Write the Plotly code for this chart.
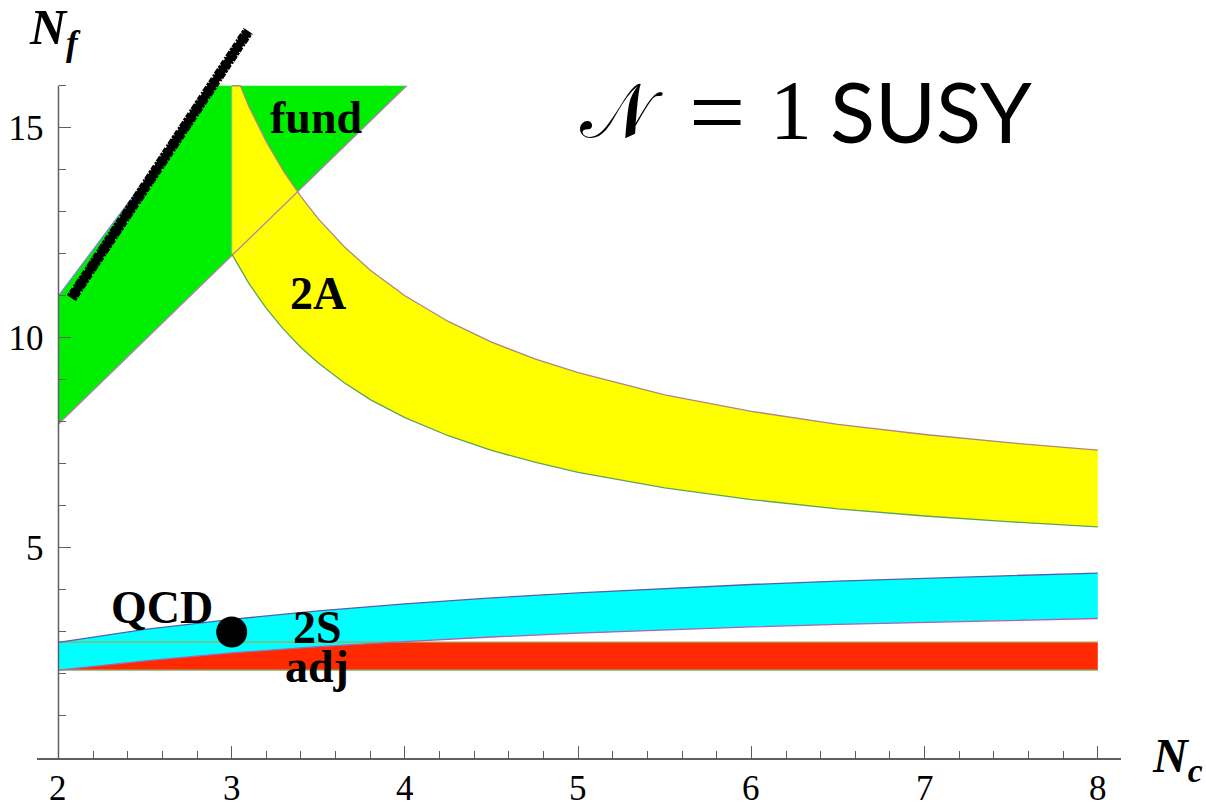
import plotly.graph_objects as go

# ---- conformal windows (N_c vs N_f) ----
# fundamental: straight-line window
fund_nc_lo = [2.0, 3.0, 4.01]
fund_nf_lo = [7.95, 11.95, 16.0]
fund_nc_hi = [2.0, 2.91]
fund_nf_hi = [11.0, 16.0]

# two-index antisymmetric
nc_2a = [3.0, 3.05, 3.1, 3.2, 3.3, 3.4, 3.5, 3.65, 3.8, 4.0, 4.25, 4.5, 4.75,
         5.0, 5.5, 6.0, 6.5, 7.0, 7.5, 8.0]
nf_2a_hi = [16.0, 16.0, 15.5, 14.67, 13.96, 13.36, 12.83, 12.17, 11.61, 11.0,
            10.39, 9.9, 9.5, 9.17, 8.64, 8.25, 7.94, 7.7, 7.5, 7.33]
nf_2a_lo = [12.0, 11.63, 11.29, 10.7, 10.2, 9.77, 9.4, 8.93, 8.53, 8.1,
            7.67, 7.32, 7.04, 6.8, 6.43, 6.15, 5.93, 5.76, 5.62, 5.5]

# two-index symmetric
nc_2s = [2.0, 2.5, 3.0, 3.5, 4.0, 4.5, 5.0, 5.5, 6.0, 6.5, 7.0, 7.5, 8.0]
nf_2s_hi = [2.75, 3.06, 3.30, 3.50, 3.67, 3.81, 3.93, 4.03, 4.13, 4.21, 4.28, 4.34, 4.40]
nf_2s_lo = [2.09, 2.31, 2.50, 2.65, 2.77, 2.88, 2.97, 3.05, 3.12, 3.18, 3.23, 3.28, 3.32]

# adjoint
nc_adj = [2.0, 8.0]
nf_adj_hi = [2.76, 2.76]
nf_adj_lo = [2.09, 2.09]

# hand-drawn stroke along the asymptotic-freedom edge
stroke_nc = [2.075, 3.095]
stroke_nf = [10.95, 17.3]

# QCD point
qcd_nc = [3.0]
qcd_nf = [3.0]

x_major = [2, 3, 4, 5, 6, 7, 8]
y_major = [5, 10, 15]
y_minor = [1, 2, 3, 4, 6, 7, 8, 9, 11, 12, 13, 14, 16]

GREEN = "#00ee00"
YELLOW = "#ffff00"
CYAN = "#00ffff"
RED = "#ff2a00"
AXIS = "#5f5f5f"

fig = go.Figure()


def band(xs_lo, ys_lo, xs_hi, ys_hi, color):
    fig.add_trace(go.Scatter(
        x=list(xs_lo) + list(xs_hi)[::-1],
        y=list(ys_lo) + list(ys_hi)[::-1],
        fill="toself", fillcolor=color, mode="lines",
        line=dict(width=0), hoverinfo="skip", showlegend=False))


def edge(xs, ys, color, width=1.3):
    fig.add_trace(go.Scatter(x=xs, y=ys, mode="lines",
                             line=dict(color=color, width=width),
                             hoverinfo="skip", showlegend=False))


band(fund_nc_lo, fund_nf_lo, fund_nc_hi, fund_nf_hi, GREEN)
band(nc_2a, nf_2a_lo, nc_2a, nf_2a_hi, YELLOW)
band(nc_adj, nf_adj_lo, nc_adj, nf_adj_hi, RED)
band(nc_2s, nf_2s_lo, nc_2s, nf_2s_hi, CYAN)

edge(fund_nc_lo, fund_nf_lo, "#b57fb5")
edge(fund_nc_hi, fund_nf_hi, "#7f86d0")
edge(nc_2a, nf_2a_hi, "#b08878")
edge(nc_2a, nf_2a_lo, "#5ca35c")
edge([nc_2a[0], nc_2a[0]], [nf_2a_lo[0], nf_2a_hi[0]], "#8fb08f", 1.0)
edge(nc_adj, nf_adj_lo, "#7fc07f")
edge(nc_adj, nf_adj_hi, "#b0a050")
edge(nc_2s, nf_2s_lo, "#b060b0")
edge(nc_2s, nf_2s_hi, "#5060b0")

# rough pen stroke: a solid core with a ragged, irregularly dashed halo
fig.add_trace(go.Scatter(x=stroke_nc, y=stroke_nf, mode="lines",
                         line=dict(color="black", width=8),
                         hoverinfo="skip", showlegend=False))
fig.add_trace(go.Scatter(x=stroke_nc, y=stroke_nf, mode="lines",
                         line=dict(color="black", width=11,
                                   dash="3px,1px,5px,2px,2px,1px,6px,1px"),
                         hoverinfo="skip", showlegend=False))

fig.add_trace(go.Scatter(x=qcd_nc, y=qcd_nf, mode="markers",
                         marker=dict(color="black", size=31),
                         hoverinfo="skip", showlegend=False))

LABEL_FONT = dict(family="Liberation Serif", size=46, color="black")
for txt, xa, ya in [("fund", 3.487, 15.24), ("2A", 3.498, 11.06),
                    ("QCD", 2.598, 3.58), ("2S", 3.498, 3.11),
                    ("adj", 3.492, 2.17)]:
    fig.add_annotation(x=xa, y=ya, xref="x", yref="y", text=f"<b>{txt}</b>",
                       showarrow=False, font=LABEL_FONT,
                       xanchor="center", yanchor="middle")

AX_FONT = dict(family="Liberation Serif", size=35, color="black")

# x tick labels set below the axis line
for v in x_major:
    fig.add_annotation(x=v, y=-0.041, xref="x", yref="paper", text=str(v),
                       showarrow=False, font=AX_FONT, height=30,
                       xanchor="center", yanchor="middle")

fig.add_annotation(x=0.0166, y=0.985, xref="paper", yref="paper",
                   text="<b><i>N<sub>f</sub></i></b>", showarrow=False,
                   font=dict(family="Liberation Serif", size=50, color="black"),
                   xanchor="center", yanchor="middle")
fig.add_annotation(x=1.0517, y=-0.001, xref="paper", yref="paper",
                   text="<b><i>N<sub>c</sub></i></b>", showarrow=False,
                   font=dict(family="Liberation Serif", size=48, color="black"),
                   xanchor="center", yanchor="middle")

# heading, composed from pieces in their own typefaces
TITLE_Y = 0.8767
fig.add_annotation(x=(621 - 37) / 1084, y=TITLE_Y, xref="paper", yref="paper",
                   text="\U0001D4A9", showarrow=False,
                   font=dict(family="DejaVu Serif", size=76, color="black"),
                   xanchor="center", yanchor="middle")
fig.add_annotation(x=(717 - 37) / 1084, y=0.8745, xref="paper", yref="paper",
                   text="=", showarrow=False,
                   font=dict(family="Liberation Serif", size=100, color="black"),
                   xanchor="center", yanchor="middle")
fig.add_annotation(x=(791 - 37) / 1084, y=TITLE_Y, xref="paper", yref="paper",
                   text="1", showarrow=False,
                   font=dict(family="Liberation Serif", size=84, color="black"),
                   xanchor="center", yanchor="middle")
fig.add_annotation(x=(931 - 37) / 1084, y=TITLE_Y, xref="paper", yref="paper",
                   text="SUSY", showarrow=False,
                   font=dict(family="Lato", size=83, color="black"),
                   xanchor="center", yanchor="middle")

# y-axis line only spans the drawn range
fig.add_shape(type="line", xref="x", yref="y", x0=2, x1=2, y0=0, y1=16,
              line=dict(color=AXIS, width=1.5), layer="above")

fig.update_layout(
    width=1206, height=805,
    margin=dict(l=37, r=85, t=20, b=47, autoexpand=False),
    paper_bgcolor="white", plot_bgcolor="white",
    xaxis=dict(range=[1.876, 8.134], showgrid=False, zeroline=False,
               showline=True, linecolor=AXIS, linewidth=1.5,
               tickmode="array", tickvals=x_major, showticklabels=False,
               ticks="inside", ticklen=12, tickwidth=1.3, tickcolor=AXIS,
               automargin=False,
               minor=dict(dtick=0.2, tick0=2, ticks="inside", ticklen=7,
                          tickwidth=1.2, tickcolor=AXIS, showgrid=False)),
    yaxis=dict(range=[0, 17.565], showgrid=False, zeroline=False,
               showline=False, anchor="free", position=(2 - 1.876) / 6.258,
               tickmode="array", tickvals=y_major, ticktext=[str(v) for v in y_major],
               ticks="inside", ticklen=12, tickwidth=1.3, tickcolor=AXIS,
               tickfont=AX_FONT, ticklabelstandoff=15, automargin=False,
               minor=dict(tickmode="array", tickvals=y_minor, ticks="inside",
                          ticklen=7, tickwidth=1.2, tickcolor=AXIS,
                          showgrid=False)),
)

fig.write_html("out.html")
